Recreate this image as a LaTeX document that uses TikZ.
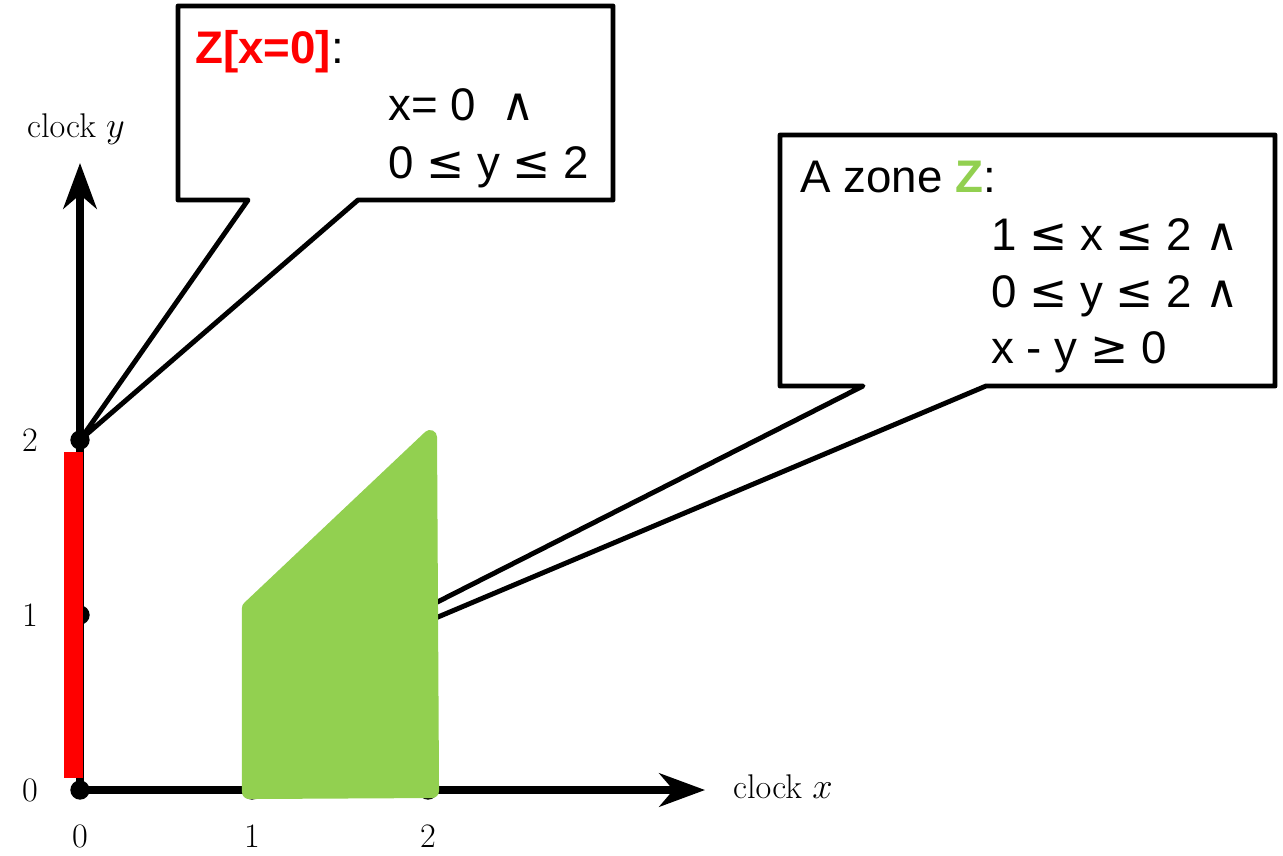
\documentclass[tikz,border=0pt]{standalone}
\usepackage{fontspec}
\newfontfamily\arialf{Liberation Sans}
\newfontfamily\djv{DejaVu Sans}
\usetikzlibrary{arrows.meta}
\definecolor{zgreen}{HTML}{92D050}
\definecolor{zred}{HTML}{FF0000}
\tikzset{
  axisline/.style={line width=4pt, -{Stealth[length=26pt,width=19pt,inset=8pt]}},
  dotmark/.style={circle, fill=black, inner sep=0pt, minimum size=11pt},
  ticklab/.style={font=\fontsize{19.5}{22}\selectfont},
  callout/.style={draw=black, fill=white, line width=2.8pt, line join=round},
  ctext/.style={anchor=base west, inner sep=0pt, font=\arialf\fontsize{26}{31}\selectfont},
}
\newcommand{\andsym}{{\djv ∧}}
\newcommand{\lesym}{{\djv ≤}}
\newcommand{\gesym}{{\djv ≥}}
\begin{document}
\begin{tikzpicture}[x={(0.02cm,0)}, y={(0,-0.02cm)}]
\useasboundingbox (0,0) rectangle (1283,855);
% named points
\coordinate (O) at (80,790);
\coordinate (Y2) at (80,440);
\coordinate (Y1) at (80,615);
\coordinate (X1) at (252,790);
\coordinate (X2) at (428,790);
\coordinate (ytip) at (80,163);
\coordinate (xtip) at (705,790);
\coordinate (tipB) at (260,692);
% axes
\draw[axisline] (O) -- (ytip);
\draw[axisline] (O) -- (xtip);
% dots
\node[dotmark] (dO) at (O) {};
\node[dotmark] (dY1) at (Y1) {};
\node[dotmark] (dY2) at (Y2) {};
\node[dotmark] (dX1) at (X1) {};
\node[dotmark] (dX2) at (X2) {};
% tick labels
\node[ticklab] (ly0) at (30,790) {0};
\node[ticklab] (ly1) at (30,615) {1};
\node[ticklab] (ly2) at (30,440) {2};
\node[ticklab] (lx0) at (80,836) {0};
\node[ticklab] (lx1) at (252,836) {1};
\node[ticklab] (lx2) at (428,836) {2};
\node[ticklab, anchor=base] (lyl) at (76,137) {clock $y$};
\node[ticklab, anchor=base west] (lxl) at (727,798) {clock $x$};
% red segment Z[x=0]
\fill[zred] (64,452) rectangle (83,778);
% callout 2 (pointer under the green zone)
\draw[callout] (780,135) -- (1275,135) -- (1275,386) -- (986,386) -- (tipB) -- (863,386) -- (780,386) -- cycle;
% green zone Z
\filldraw[zgreen, line width=8pt, line join=round] (249,608) -- (430,437) -- (432,791) -- (249,792) -- cycle;
% callout 1
\draw[callout] (178,6) -- (613,6) -- (613,200) -- (358,200) -- (Y2) -- (248,200) -- (178,200) -- cycle;
% callout texts
\node[ctext] (t1a) at (195,64) {{\bfseries\color{zred}Z[x=0]}:};
\node[ctext] (t1b) at (388,120) {x=~0~~\andsym};
\node[ctext] (t1c) at (388,178) {0 \lesym{} y \lesym{} 2};
\node[ctext] (t2a) at (800,192) {A zone {\bfseries\color{zgreen}Z}:};
\node[ctext] (t2b) at (991,250) {1 \lesym{} x \lesym{} 2 \andsym};
\node[ctext] (t2c) at (991,307) {0 \lesym{} y \lesym{} 2 \andsym};
\node[ctext] (t2d) at (991,363) {x - y \gesym{} 0};
\end{tikzpicture}
\end{document}
